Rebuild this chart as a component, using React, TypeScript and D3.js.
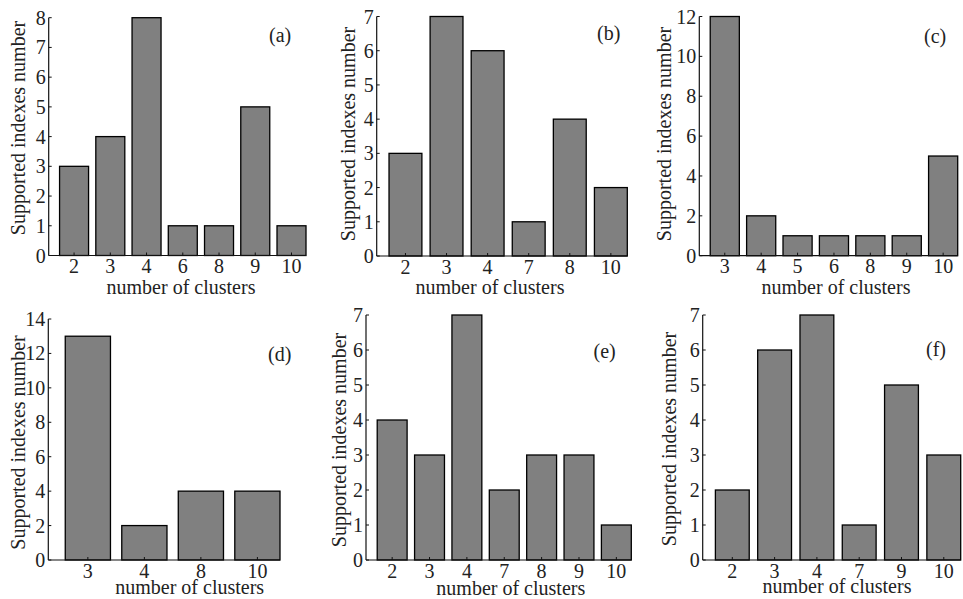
import React from "react";
import * as d3 from "d3";

// ---- data ----
const catsA = ["2", "3", "4", "6", "8", "9", "10"];
const valsA = [3, 4, 8, 1, 1, 5, 1];
const catsB = ["2", "3", "4", "7", "8", "10"];
const valsB = [3, 7, 6, 1, 4, 2];
const catsC = ["3", "4", "5", "6", "8", "9", "10"];
const valsC = [12, 2, 1, 1, 1, 1, 5];
const catsD = ["3", "4", "8", "10"];
const valsD = [13, 2, 4, 4];
const catsE = ["2", "3", "4", "7", "8", "9", "10"];
const valsE = [4, 3, 7, 2, 3, 3, 1];
const catsF = ["2", "3", "4", "7", "9", "10"];
const valsF = [2, 6, 7, 1, 5, 3];

const yMaxes = [8, 7, 12, 14, 7, 7];
const yStepList = [1, 1, 2, 2, 1, 1];
const panelLetters = ["(a)", "(b)", "(c)", "(d)", "(e)", "(f)"];
const xLabelText = "number of clusters";
const yLabelText = "Supported indexes number";

// ---- layout ----
const layouts = [
  { left: 48.7, right: 306, top: 17.7, bottom: 255.5, xlx: 181, xly: 294, ylx: 24.5, yly: 128, lx: 269, ly: 42 },
  { left: 376.7, right: 627.3, top: 16.5, bottom: 256, xlx: 490, xly: 294, ylx: 355, yly: 134, lx: 597, ly: 40 },
  { left: 699.3, right: 957.7, top: 16.5, bottom: 255.7, xlx: 836, xly: 293.5, ylx: 671, yly: 134, lx: 924, ly: 43 },
  { left: 48.3, right: 280, top: 319, bottom: 560, xlx: 189.7, xly: 594, ylx: 24.5, yly: 442.5, lx: 268, ly: 361 },
  { left: 366, right: 631.3, top: 315, bottom: 560, xlx: 510.8, xly: 595, ylx: 346, yly: 440, lx: 593.5, ly: 358 },
  { left: 702.7, right: 960.7, top: 315, bottom: 560, xlx: 837, xly: 593, ylx: 676, yly: 439, lx: 926, ly: 356 },
];

const FONT = "Liberation Serif, DejaVu Serif, serif";
const TEXT = "#222";

function Panel({ cats, vals, idx }: { cats: string[]; vals: number[]; idx: number }) {
  const L = layouts[idx];
  const n = cats.length;
  const x = d3.scaleLinear().domain([0.3, n + 0.4]).range([L.left, L.right]);
  const y = d3.scaleLinear().domain([0, yMaxes[idx]]).range([L.bottom, L.top]);
  const step = x(2) - x(1);
  const bw = step * 0.8;
  const yTicks = d3.range(0, yMaxes[idx] + 0.001, yStepList[idx]);
  return (
    <g>
      {vals.map((v, i) => (
        <rect
          key={i}
          x={x(i + 1) - bw / 2}
          y={y(v)}
          width={bw}
          height={y(0) - y(v)}
          fill="#808080"
          stroke="#000"
          strokeWidth={1.3}
        />
      ))}
      <line x1={L.left} x2={L.left} y1={L.top} y2={L.bottom} stroke="#111" strokeWidth={1.2} />
      <line x1={L.left} x2={L.right} y1={L.bottom} y2={L.bottom} stroke="#111" strokeWidth={1.2} />
      {yTicks.map((t) => (
        <g key={t}>
          <line x1={L.left} x2={L.left + 3} y1={y(t)} y2={y(t)} stroke="#111" strokeWidth={1} />
          <text
            x={L.left - 3}
            y={y(t)}
            textAnchor="end"
            dominantBaseline="central"
            style={{ fontFamily: FONT }}
            fontSize={20}
            fill={TEXT}
          >
            {t}
          </text>
        </g>
      ))}
      {cats.map((c, i) => (
        <g key={c}>
          <line x1={x(i + 1)} x2={x(i + 1)} y1={L.bottom} y2={L.bottom - 3} stroke="#111" strokeWidth={1} />
          <text
            x={x(i + 1)}
            y={L.bottom + 17.5}
            textAnchor="middle"
            style={{ fontFamily: FONT }}
            fontSize={20}
            fill={TEXT}
          >
            {c}
          </text>
        </g>
      ))}
      <text x={L.xlx} y={L.xly} textAnchor="middle" style={{ fontFamily: FONT }} fontSize={20} fill={TEXT}>
        {xLabelText}
      </text>
      <text
        transform={`translate(${L.ylx},${L.yly}) rotate(-90)`}
        textAnchor="middle"
        style={{ fontFamily: FONT }}
        fontSize={20}
        fill={TEXT}
      >
        {yLabelText}
      </text>
      <text x={L.lx} y={L.ly} style={{ fontFamily: FONT }} fontSize={20} fill={TEXT}>
        {panelLetters[idx]}
      </text>
    </g>
  );
}

export default function App() {
  const panels = [
    [catsA, valsA],
    [catsB, valsB],
    [catsC, valsC],
    [catsD, valsD],
    [catsE, valsE],
    [catsF, valsF],
  ] as [string[], number[]][];
  return (
    <svg
      width={963}
      height={599}
      style={{ position: "absolute", left: 0, top: 0, background: "#fff" }}
    >
      <rect width={963} height={599} fill="#fff" />
      {panels.map(([c, v], i) => (
        <Panel key={i} cats={c} vals={v} idx={i} />
      ))}
    </svg>
  );
}
